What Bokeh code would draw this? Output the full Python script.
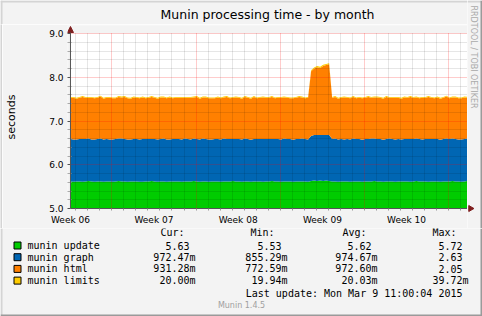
import numpy as np
from datetime import datetime, timedelta
from bokeh.plotting import figure
from bokeh.layouts import column, row
from bokeh.models import (Range1d, FixedTicker, PrintfTickFormatter, Arrow,
                          NormalHead, BoxAnnotation)
from bokeh.core.properties import value
from bokeh.embed import file_html
from bokeh.resources import INLINE

# ---------------- data ----------------
title_text = "Munin processing time - by month"
y_label = "seconds"
watermark = "RRDTOOL / TOBI OETIKER"
series_names = ["munin update", "munin graph", "munin html", "munin limits"]
series_colors = ["#00CC00", "#0066B3", "#FF8000", "#FFCC00"]
week_labels = ["Week 06", "Week 07", "Week 08", "Week 09", "Week 10"]
y_ticks = [5.0, 6.0, 7.0, 8.0, 9.0]
stat_headers = ["Cur:", "Min:", "Avg:", "Max:"]
cur_vals = [5.63, 0.97247, 0.93128, 0.02000]
min_vals = [5.53, 0.85529, 0.77259, 0.01994]
avg_vals = [5.62, 0.97467, 0.97260, 0.02003]
max_vals = [5.72, 2.63, 2.05, 0.03972]
last_update = "Last update: Mon Mar  9 11:00:04 2015"
version_text = "Munin 1.4.5"

graph_start = datetime(2015, 2, 4, 13, 30)
graph_days = 33
sample_hours = 6

# samples every 6 hours (seconds)
update = [
    5.62, 5.61, 5.62, 5.62, 5.61, 5.62, 5.63, 5.62, 5.61, 5.62, 5.62, 5.61,
    5.62, 5.62, 5.61, 5.62, 5.63, 5.62, 5.62, 5.61, 5.62, 5.62, 5.62, 5.61,
    5.61, 5.62, 5.62, 5.63, 5.62, 5.61, 5.62, 5.62, 5.61, 5.62, 5.62, 5.62,
    5.62, 5.61, 5.62, 5.62, 5.62, 5.63, 5.62, 5.61, 5.62, 5.62, 5.61, 5.62,
    5.62, 5.62, 5.61, 5.62, 5.62, 5.62, 5.63, 5.62, 5.62, 5.61, 5.62, 5.62,
    5.61, 5.62, 5.62, 5.62, 5.61, 5.62, 5.62, 5.63, 5.62, 5.62, 5.61, 5.62,
    5.62, 5.62, 5.61, 5.62, 5.62, 5.62, 5.62, 5.61, 5.63, 5.64, 5.63, 5.64,
    5.63, 5.64, 5.63, 5.62, 5.62, 5.61, 5.62, 5.62, 5.62, 5.61, 5.62, 5.62,
    5.62, 5.61, 5.62, 5.62, 5.62, 5.63, 5.62, 5.62, 5.61, 5.62, 5.62, 5.62,
    5.61, 5.62, 5.62, 5.62, 5.62, 5.61, 5.62, 5.63, 5.62, 5.62, 5.62, 5.61,
    5.62, 5.62, 5.62, 5.61, 5.62, 5.62, 5.62, 5.63, 5.62, 5.62, 5.61, 5.62,
    5.63,
]
graph = [
    0.97, 0.97, 0.96, 0.97, 0.98, 0.97, 0.97, 0.96, 0.97, 0.97, 0.98, 0.97,
    0.97, 0.96, 0.97, 0.97, 0.97, 0.98, 0.97, 0.97, 0.96, 0.97, 0.97, 0.97,
    0.98, 0.97, 0.97, 0.96, 0.97, 0.97, 0.97, 0.98, 0.97, 0.96, 0.97, 0.97,
    0.97, 0.97, 0.98, 0.97, 0.96, 0.97, 0.97, 0.97, 0.98, 0.97, 0.97, 0.96,
    0.97, 0.97, 0.97, 0.98, 0.97, 0.97, 0.96, 0.97, 0.97, 0.97, 0.98, 0.97,
    0.96, 0.97, 0.97, 0.97, 0.98, 0.97, 0.97, 0.96, 0.97, 0.97, 0.97, 0.98,
    0.97, 0.97, 0.96, 0.97, 0.97, 0.98, 0.97, 0.97, 1.03, 1.04, 1.05, 1.04,
    1.05, 1.04, 1.05, 0.97, 0.98, 0.97, 0.97, 0.96, 0.97, 0.97, 0.98, 0.97,
    0.97, 0.96, 0.97, 0.97, 0.98, 0.97, 0.97, 0.97, 0.96, 0.97, 0.98, 0.97,
    0.97, 0.97, 0.96, 0.97, 0.97, 0.98, 0.97, 0.97, 0.97, 0.96, 0.97, 0.98,
    0.97, 0.97, 0.97, 0.96, 0.97, 0.98, 0.97, 0.97, 0.97, 0.96, 0.97, 0.97,
    0.97,
]
html = [
    0.94, 0.95, 0.93, 0.94, 0.96, 0.94, 0.93, 0.95, 0.94, 0.94, 0.96, 0.93,
    0.94, 0.95, 0.94, 0.93, 0.95, 0.94, 0.96, 0.94, 0.93, 0.95, 0.94, 0.94,
    0.95, 0.93, 0.94, 0.96, 0.94, 0.93, 0.95, 0.94, 0.94, 0.96, 0.93, 0.94,
    0.94, 0.95, 0.93, 0.94, 0.95, 0.94, 0.96, 0.93, 0.94, 0.95, 0.94, 0.94,
    0.93, 0.95, 0.94, 0.94, 0.96, 0.93, 0.94, 0.95, 0.94, 0.93, 0.95, 0.94,
    0.94, 0.96, 0.93, 0.94, 0.95, 0.94, 0.94, 0.96, 0.93, 0.94, 0.95, 0.94,
    0.94, 0.93, 0.95, 0.94, 0.96, 0.94, 0.93, 0.95, 1.48, 1.52, 1.55, 1.53,
    1.58, 1.60, 1.62, 0.94, 0.95, 0.93, 0.94, 0.96, 0.94, 0.94, 0.95, 0.93,
    0.94, 0.95, 0.94, 0.96, 0.93, 0.94, 0.95, 0.94, 0.94, 0.96, 0.93, 0.94,
    0.95, 0.94, 0.93, 0.95, 0.94, 0.96, 0.94, 0.94, 0.93, 0.95, 0.94, 0.96,
    0.94, 0.93, 0.95, 0.94, 0.94, 0.96, 0.93, 0.94, 0.95, 0.94, 0.94, 0.95,
    0.93,
]
limits = [
    0.020, 0.020, 0.020, 0.020, 0.021, 0.020, 0.020, 0.020, 0.020, 0.020, 0.020, 0.020,
    0.020, 0.020, 0.019, 0.020, 0.020, 0.020, 0.020, 0.020, 0.020, 0.021, 0.020, 0.020,
    0.020, 0.020, 0.020, 0.020, 0.020, 0.020, 0.020, 0.020, 0.020, 0.020, 0.020, 0.020,
    0.020, 0.021, 0.020, 0.020, 0.020, 0.020, 0.020, 0.020, 0.019, 0.020, 0.020, 0.020,
    0.020, 0.020, 0.020, 0.020, 0.020, 0.020, 0.020, 0.021, 0.020, 0.020, 0.020, 0.020,
    0.020, 0.020, 0.020, 0.020, 0.020, 0.020, 0.020, 0.020, 0.020, 0.020, 0.020, 0.020,
    0.020, 0.020, 0.020, 0.020, 0.020, 0.020, 0.020, 0.020, 0.022, 0.025, 0.030, 0.028,
    0.024, 0.022, 0.021, 0.020, 0.020, 0.020, 0.020, 0.020, 0.020, 0.020, 0.020, 0.020,
    0.020, 0.020, 0.020, 0.020, 0.021, 0.020, 0.020, 0.020, 0.020, 0.020, 0.020, 0.020,
    0.020, 0.020, 0.020, 0.020, 0.020, 0.020, 0.019, 0.020, 0.020, 0.020, 0.020, 0.020,
    0.020, 0.020, 0.020, 0.020, 0.020, 0.020, 0.020, 0.020, 0.021, 0.020, 0.020, 0.020,
    0.020,
]

# ---------------- layout constants ----------------
W, H_ALL_TOP, H_LEG = 482, 228, 88
BAND = 2                         # rrdtool 3-D border width
H_HEAD = 24                      # header (title) height
H_TOP = H_ALL_TOP - H_HEAD       # main chart row height
STRIP_W = 15
GRAPH_X, GRAPH_Y = 67, 33        # graph area origin on the whole canvas
PLOT_W = 400                     # rrdtool graph area width (px)
PLOT_H = 175                     # rrdtool graph area height (px)
PAD_L, PAD_T = 3, 8              # extra frame room for the y-axis arrow head
FRAME_L = GRAPH_X - BAND - PAD_L
FRAME_T = GRAPH_Y - H_HEAD - PAD_T
FRAME_B = H_TOP - (GRAPH_Y - H_HEAD) - PLOT_H
canvas_bg = "#f3f3f3"
axis_color = "#555555"
arrow_color = "#7f1f1f"
shade_dark = "#9a9a9a"
shade_light = "#d4d4d4"

total_hours = graph_days * 24.0
y_min, y_max = y_ticks[0], y_ticks[-1]
hpp = total_hours / PLOT_W
upp = (y_max - y_min) / PLOT_H


def hrs(dt):
    return (dt - graph_start).total_seconds() / 3600.0


t = np.arange(len(update)) * sample_hours
layers = [np.array(update), np.array(graph), np.array(html), np.array(limits)]
tops = np.cumsum(layers, axis=0)
bottoms = np.vstack([np.zeros(len(update)), tops[:-1]])

# tick positions from the calendar
label_pos = [max(0.0, hrs(datetime(2015, 2, 4, 12) + timedelta(days=7 * i)))
             for i in range(len(week_labels))]
sunday_pos = [hrs(datetime(2015, 2, 8) + timedelta(days=7 * i)) for i in range(5)]
day_pos = [hrs(datetime(2015, 2, 5) + timedelta(days=i)) for i in range(33)]
day_minor = [d for d in day_pos if d not in sunday_pos]
y_minor = [round(v, 1) for v in np.arange(y_min, y_max + 0.001, 0.2)
           if abs(v - round(v)) > 1e-6]


def no_align(fig):
    if "frame_align" in fig.properties():
        fig.frame_align = False


def blank(width, height, bg):
    f = figure(width=width, height=height, output_backend="svg",
               toolbar_location=None, min_border=0, outline_line_color=None,
               background_fill_color=bg, border_fill_color=bg,
               x_range=Range1d(0, width), y_range=Range1d(height, 0))
    no_align(f)
    f.axis.visible = False
    f.grid.visible = False
    return f


# ---------------- header (title) ----------------
head = blank(W - STRIP_W, H_HEAD, canvas_bg)
head.quad(left=0, right=W - STRIP_W, top=0, bottom=BAND, fill_color=shade_light,
          line_color=None)
head.quad(left=0, right=BAND, top=0, bottom=H_HEAD, fill_color=shade_light,
          line_color=None)
head.text(x=[GRAPH_X + PLOT_W / 2], y=[13.5], text=[title_text],
          text_font=value("DejaVu Sans"), text_font_size="12.5px",
          text_align="center", text_baseline="middle", text_color="black")

# ---------------- main chart ----------------
p = figure(width=W - BAND - STRIP_W, height=H_TOP,
           x_range=Range1d(-PAD_L * hpp, total_hours),
           y_range=Range1d(y_min, y_max + PAD_T * upp), output_backend="svg",
           toolbar_location=None, min_border_left=FRAME_L,
           min_border_right=0, min_border_top=FRAME_T,
           min_border_bottom=FRAME_B, background_fill_color=canvas_bg,
           border_fill_color=canvas_bg, outline_line_color=None)
no_align(p)
try:
    p.title = None
except Exception:
    p.title.text = ""
    p.title.standoff = 0

# white graph area (the rrdtool canvas)
p.add_layout(BoxAnnotation(left=0, right=total_hours, bottom=y_min, top=y_max,
                           fill_color="white", fill_alpha=1.0, line_color=None,
                           level="underlay"))

for i in range(4):
    p.varea(x=t, y1=bottoms[i], y2=tops[i], fill_color=series_colors[i])

# x axis
p.xaxis.ticker = FixedTicker(ticks=label_pos, minor_ticks=day_pos)
p.xaxis.major_label_overrides = {pos: lab for pos, lab in zip(label_pos, week_labels)}
p.xaxis.bounds = (0, total_hours)
p.xaxis.major_tick_out = 0
p.xaxis.major_tick_in = 0
p.xaxis.minor_tick_out = 2
p.xaxis.minor_tick_in = 0
p.xaxis.major_label_standoff = 4
p.xaxis.major_label_text_font = "DejaVu Sans"
p.xaxis.major_label_text_font_size = "9px"
p.xaxis.major_label_text_color = "black"
p.xaxis.axis_line_color = axis_color
p.xaxis.minor_tick_line_color = "#999999"

# y axis (sits at the frame edge; the visible axis line is the arrow shaft)
p.yaxis.ticker = FixedTicker(ticks=y_ticks, minor_ticks=y_minor)
p.yaxis.formatter = PrintfTickFormatter(format="%.1f")
p.yaxis.bounds = (y_min, y_max)
p.yaxis.axis_line_color = None
p.yaxis.major_tick_out = 0
p.yaxis.major_tick_in = PAD_L
p.yaxis.minor_tick_out = 0
p.yaxis.minor_tick_in = PAD_L + 1
p.yaxis.major_label_standoff = 4
p.yaxis.major_label_text_font = "DejaVu Sans"
p.yaxis.major_label_text_font_size = "9px"
p.yaxis.major_label_text_color = "black"
p.yaxis.major_tick_line_color = axis_color
p.yaxis.minor_tick_line_color = "#aaaaaa"
p.yaxis.axis_label = y_label
p.yaxis.axis_label_text_font = "DejaVu Sans"
p.yaxis.axis_label_text_font_size = "11px"
p.yaxis.axis_label_text_font_style = "normal"
p.yaxis.axis_label_text_color = "black"
p.yaxis.axis_label_standoff = 28

# grids drawn over the areas, like rrdtool
p.xgrid.ticker = FixedTicker(ticks=sunday_pos, minor_ticks=day_minor)
for g, cb in ((p.xgrid[0], (y_min, y_max)), (p.ygrid[0], (0, total_hours))):
    g.level = "overlay"
    g.grid_line_color = "#ff0000"
    g.grid_line_alpha = 0.4
    g.grid_line_dash = "1 1"
    g.minor_grid_line_color = "#000000"
    g.minor_grid_line_alpha = 0.2
    g.minor_grid_line_dash = "1 1"
    if "cross_bounds" in g.properties():
        g.cross_bounds = cb

# y-axis line with its arrow head
p.add_layout(Arrow(end=NormalHead(size=6, fill_color=arrow_color, line_color=arrow_color),
                   line_color=axis_color, line_width=1, x_start=0, y_start=y_min,
                   x_end=0, y_end=y_max + (PAD_T - 1) * upp, level="overlay"))

left_band = blank(BAND, H_TOP, shade_light)

# ---------------- right strip (watermark, x-axis arrow, shade) ----------------
s = blank(STRIP_W, H_ALL_TOP, canvas_bg)
s.quad(left=0, right=STRIP_W, top=0, bottom=BAND, fill_color=shade_light,
       line_color=None)
s.text(x=[6], y=[5], text=[watermark], angle=-np.pi / 2,
       text_font=value("DejaVu Sans"), text_font_size="8px", text_color="#aaaaaa",
       text_align="left", text_baseline="middle")
s.scatter(x=[3], y=[GRAPH_Y + PLOT_H], marker="triangle", size=6,
          angle=-np.pi / 2, fill_color=arrow_color, line_color=arrow_color)
s.quad(left=STRIP_W - BAND, right=STRIP_W, top=0, bottom=H_ALL_TOP,
       fill_color=shade_dark, line_color=None)

# ---------------- legend panel ----------------
q = blank(W, H_LEG, canvas_bg)

mono = value("DejaVu Sans Mono")
row_y = [17 + 11.7 * i for i in range(4)]
head_x = [160, 250, 342, 432]
col_right = [195, 287, 377, 468]
char_w = 6

q.text(x=head_x, y=[4] * 4, text=stat_headers, text_font=mono, text_font_size="10px",
       text_baseline="middle", text_align="left", text_color="black")
q.rect(x=17, y=row_y, width=7, height=7, fill_color=series_colors, line_color="black")
q.text(x=27, y=row_y, text=series_names, text_font=mono, text_font_size="10px",
       text_baseline="middle", text_align="left", text_color="black")


def fmt(v):
    return f"{v * 1000:.2f}m" if v < 1 else f"{v:.2f}"


vx, vy, vt = [], [], []
for j, col in enumerate([cur_vals, min_vals, avg_vals, max_vals]):
    for i, v in enumerate(col):
        txt = fmt(v)
        vx.append(col_right[j] - (0 if txt.endswith("m") else char_w))
        vy.append(row_y[i])
        vt.append(txt)
q.text(x=vx, y=vy, text=vt, text_font=mono, text_font_size="10px",
       text_baseline="middle", text_align="right", text_color="black")

q.text(x=[468], y=[65], text=[last_update], text_font=mono, text_font_size="10px",
       text_baseline="middle", text_align="right", text_color="black")
q.text(x=[W / 2], y=[77], text=[version_text], text_font=value("DejaVu Sans"),
       text_font_size="8px", text_baseline="middle", text_align="center",
       text_color="#a0a0a0")
q.quad(left=0, right=BAND, top=0, bottom=H_LEG, fill_color=shade_light, line_color=None)
q.quad(left=W - BAND, right=W, top=0, bottom=H_LEG, fill_color=shade_dark,
       line_color=None)
q.quad(left=0, right=W, top=H_LEG - BAND, bottom=H_LEG, fill_color=shade_dark,
       line_color=None)

layout = column(row(column(head, row(left_band, p, spacing=0), spacing=0), s, spacing=0),
                q, spacing=0)
open("out.html", "w").write(file_html(layout, INLINE))
